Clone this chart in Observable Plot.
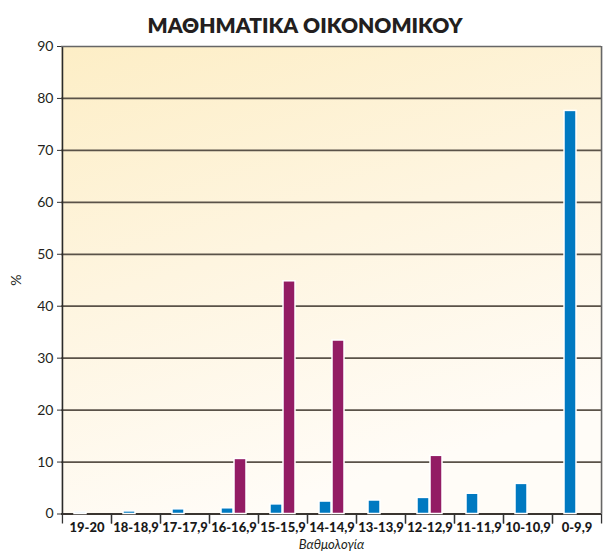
<!DOCTYPE html>
<html>
<head>
<meta charset="utf-8">
<script src="https://cdn.jsdelivr.net/npm/d3@7"></script>
<script src="https://cdn.jsdelivr.net/npm/@observablehq/plot@0.6"></script>
<style>
  html, body { margin: 0; padding: 0; background: #fff; }
  #title { width: 610px; height: 30px; line-height: 30px; text-align: center; position: relative; top: 10px; z-index: 2;
           font-family: Lato, "Open Sans", sans-serif; font-weight: 800; font-size: 21px; color: #231f20; }
  svg { display: block; }
</style>
</head>
<body>
<div id="title">ΜΑΘΗΜΑΤΙΚΑ ΟΙΚΟΝΟΜΙΚΟΥ</div>
<div id="chart"></div>
<script>
const categories = ["19-20","18-18,9","17-17,9","16-16,9","15-15,9","14-14,9","13-13,9","12-12,9","11-11,9","10-10,9","0-9,9"];
const seriesA = [0.3, 0.5, 0.9, 1.1, 1.85, 2.4, 2.6, 3.1, 3.9, 5.8, 77.6];
const seriesB = [0, 0, 0, 10.6, 44.8, 33.4, 0, 11.2, 0, 0, 0];
const yTicks = [0, 10, 20, 30, 40, 50, 60, 70, 80, 90];
const gridTicks = [10, 20, 30, 40, 50, 60, 70, 80];
const xLabel = "Βαθμολογία";
const yLabel = "%";

const dataA = categories.map((c, i) => ({cat: c, v: seriesA[i]}));
const dataB = categories.map((c, i) => ({cat: c, v: seriesB[i]})).filter(d => d.v > 0);

const W = 610, H = 523, mL = 61, mR = 9, mT = 16, mB = 39.5;
const half = (W - mL - mR) / categories.length / 2;

const chart = Plot.plot({
  width: W, height: H,
  marginLeft: mL, marginRight: mR, marginTop: mT, marginBottom: mB,
  style: {fontFamily: "Lato, sans-serif", fontSize: "14px", color: "#231f20", background: "transparent"},
  x: {domain: categories, padding: 0, axis: null},
  y: {domain: [0, 90], axis: null},
  marks: [
    Plot.frame({fill: "url(#bggrad)", stroke: "none"}),
    Plot.gridY(gridTicks, {stroke: "#5a5248", strokeOpacity: 1, strokeWidth: 1.7}),
    Plot.ruleY([0], {stroke: "#3a3530", strokeWidth: 1.8}),
    Plot.barY(dataA, {x: "cat", y: "v", fill: "#0079c1", stroke: "#fff", strokeWidth: 1.5, insetLeft: 12, insetRight: 25}),
    Plot.barY(dataB, {x: "cat", y: "v", fill: "#931c64", stroke: "#fff", strokeWidth: 1.5, insetLeft: 25, insetRight: 12}),
    Plot.ruleX([categories[0]], {stroke: "#2a2a2a", strokeWidth: 1.6, dx: -half, y1: 0, y2: 90}),
    Plot.ruleX([categories[categories.length - 1]], {stroke: "#666", strokeWidth: 1.6, dx: half, y1: 0, y2: 90}),
    Plot.ruleY([90], {stroke: "#666", strokeWidth: 1.6}),
    Plot.axisY(yTicks, {tickSize: 4, tickPadding: 4, stroke: "#333", fontSize: 14, label: yLabel, labelAnchor: "center", labelArrow: "none", labelOffset: 50}),
    Plot.axisX({tickSize: 10, dx: -half, tickFormat: () => "", stroke: "#333", strokeWidth: 1.3, label: null}),
    Plot.axisX({tickSize: 10, dx: half, tickFormat: () => "", stroke: "#333", strokeWidth: 1.3, label: null}),
    Plot.axisX({tickSize: 0, tickPadding: 9, fontFamily: "Lato, sans-serif", fontWeight: 900, fontSize: 13, letterSpacing: "-0.85px", fill: "#1a1a1a", label: null}),
    Plot.text([xLabel], {frameAnchor: "bottom", dy: 26, fontStyle: "italic", fontSize: 13, fill: "#231f20", lineAnchor: "top"})
  ]
});

const ns = "http://www.w3.org/2000/svg";
const defs = document.createElementNS(ns, "defs");
defs.innerHTML = `<linearGradient id="bggrad" x1="0" y1="0" x2="0.35" y2="1">
  <stop offset="0" stop-color="#fdeec6"/>
  <stop offset="0.5" stop-color="#fef5e0"/>
  <stop offset="1" stop-color="#fffcf7"/>
</linearGradient>`;
chart.insertBefore(defs, chart.firstChild);
document.getElementById("chart").appendChild(chart);
</script>
</body>
</html>
